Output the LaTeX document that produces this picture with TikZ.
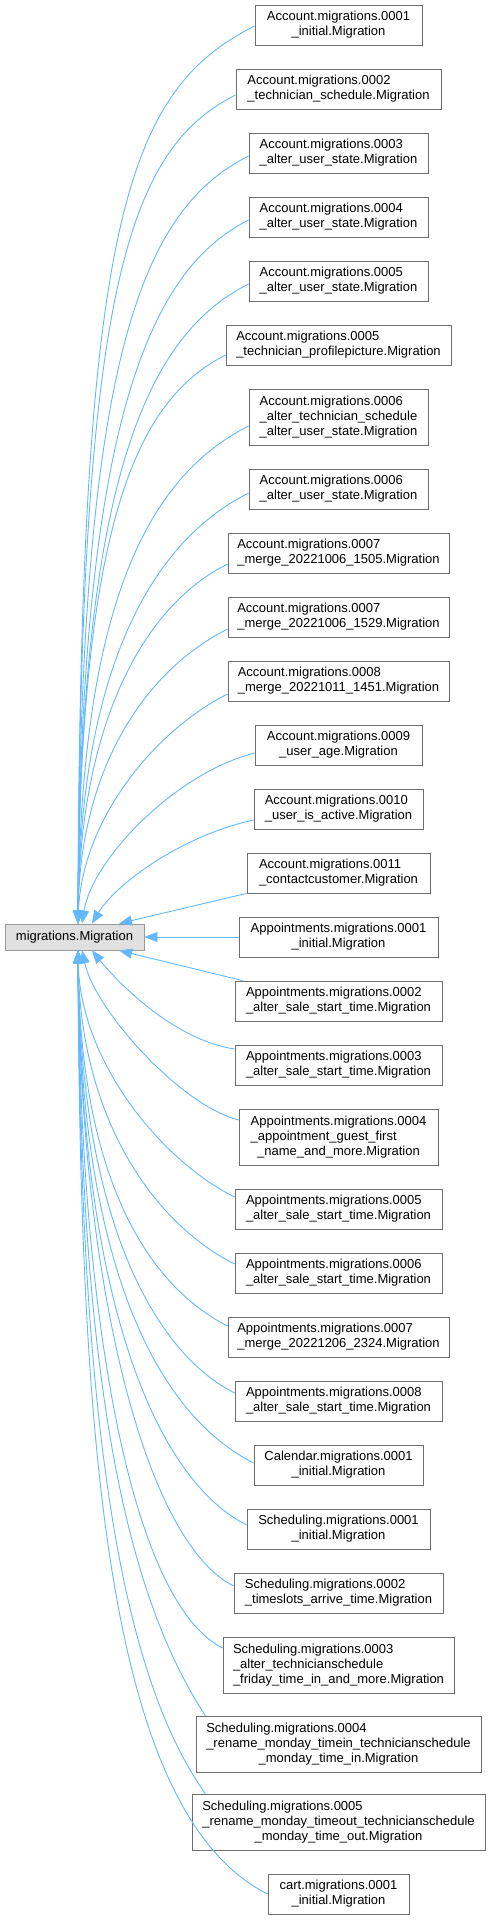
\documentclass[tikz,border=0pt]{standalone}
\usepackage{fontspec}
\setmainfont{Liberation Sans}
\usetikzlibrary{arrows.meta}
\definecolor{edgeblue}{HTML}{63B8FF}
\definecolor{boxdraw}{HTML}{6E6E6E}
\definecolor{basefill}{HTML}{E0E0E0}
\definecolor{basedraw}{HTML}{999999}
\newcommand{\mlab}[2]{\begin{tabular}{@{}l@{}}#1\\\multicolumn{1}{@{}c@{}}{#2}\end{tabular}}
\newcommand{\mlabiii}[3]{\begin{tabular}{@{}l@{}}#1\\#2\\\multicolumn{1}{@{}c@{}}{#3}\end{tabular}}
\tikzset{
  cls/.style={draw=boxdraw, fill=white, line width=0.8pt, inner sep=0pt,
    minimum height=40pt, font=\fontsize{13}{15}\selectfont},
  tall/.style={minimum height=56pt},
  basebox/.style={draw=basedraw, fill=basefill, line width=0.9pt, inner sep=0pt,
    minimum width=139pt, minimum height=26pt, font=\fontsize{13}{15}\selectfont},
  inh/.style={draw=edgeblue, line width=0.9pt, -{Triangle[length=13pt,width=10pt]}},
}
\begin{document}
\begin{tikzpicture}[x=1pt,y=-1pt]
\useasboundingbox (0,0) rectangle (491,1920);
\node[basebox] (base) at (74.5,937) {migrations.Migration};
\node[cls, minimum width=167pt] (c1) at (338.5,25) {\mlab{Account.migrations.0001}{\_initial.Migration}};
\node[cls, minimum width=205pt] (c2) at (338.5,89) {\mlab{Account.migrations.0002}{\_technician\_schedule.Migration}};
\node[cls, minimum width=179pt] (c3) at (338.5,153) {\mlab{Account.migrations.0003}{\_alter\_user\_state.Migration}};
\node[cls, minimum width=179pt] (c4) at (338.5,217) {\mlab{Account.migrations.0004}{\_alter\_user\_state.Migration}};
\node[cls, minimum width=179pt] (c5) at (338.5,281) {\mlab{Account.migrations.0005}{\_alter\_user\_state.Migration}};
\node[cls, minimum width=225pt] (c6) at (338.5,345) {\mlab{Account.migrations.0005}{\_technician\_profilepicture.Migration}};
\node[cls, tall, minimum width=179pt] (c7) at (338.5,417) {\mlabiii{Account.migrations.0006}{\_alter\_technician\_schedule}{\_alter\_user\_state.Migration}};
\node[cls, minimum width=179pt] (c8) at (338.5,489) {\mlab{Account.migrations.0006}{\_alter\_user\_state.Migration}};
\node[cls, minimum width=221pt] (c9) at (338.5,553) {\mlab{Account.migrations.0007}{\_merge\_20221006\_1505.Migration}};
\node[cls, minimum width=221pt] (c10) at (338.5,617) {\mlab{Account.migrations.0007}{\_merge\_20221006\_1529.Migration}};
\node[cls, minimum width=221pt] (c11) at (338.5,681) {\mlab{Account.migrations.0008}{\_merge\_20221011\_1451.Migration}};
\node[cls, minimum width=167pt] (c12) at (338.5,745) {\mlab{Account.migrations.0009}{\_user\_age.Migration}};
\node[cls, minimum width=169pt] (c13) at (338.5,809) {\mlab{Account.migrations.0010}{\_user\_is\_active.Migration}};
\node[cls, minimum width=183pt] (c14) at (338.5,873) {\mlab{Account.migrations.0011}{\_contactcustomer.Migration}};
\node[cls, minimum width=199pt] (c15) at (338.5,937) {\mlab{Appointments.migrations.0001}{\_initial.Migration}};
\node[cls, minimum width=207pt] (c16) at (338.5,1001) {\mlab{Appointments.migrations.0002}{\_alter\_sale\_start\_time.Migration}};
\node[cls, minimum width=207pt] (c17) at (338.5,1065) {\mlab{Appointments.migrations.0003}{\_alter\_sale\_start\_time.Migration}};
\node[cls, tall, minimum width=199pt] (c18) at (338.5,1137.5) {\mlabiii{Appointments.migrations.0004}{\_appointment\_guest\_first}{\_name\_and\_more.Migration}};
\node[cls, minimum width=207pt] (c19) at (338.5,1209) {\mlab{Appointments.migrations.0005}{\_alter\_sale\_start\_time.Migration}};
\node[cls, minimum width=207pt] (c20) at (338.5,1273) {\mlab{Appointments.migrations.0006}{\_alter\_sale\_start\_time.Migration}};
\node[cls, minimum width=221pt] (c21) at (338.5,1337) {\mlab{Appointments.migrations.0007}{\_merge\_20221206\_2324.Migration}};
\node[cls, minimum width=207pt] (c22) at (338.5,1401) {\mlab{Appointments.migrations.0008}{\_alter\_sale\_start\_time.Migration}};
\node[cls, minimum width=169pt] (c23) at (338.5,1465) {\mlab{Calendar.migrations.0001}{\_initial.Migration}};
\node[cls, minimum width=183pt] (c24) at (338.5,1529) {\mlab{Scheduling.migrations.0001}{\_initial.Migration}};
\node[cls, minimum width=209pt] (c25) at (338.5,1593) {\mlab{Scheduling.migrations.0002}{\_timeslots\_arrive\_time.Migration}};
\node[cls, tall, minimum width=231pt] (c26) at (338.5,1665) {\mlabiii{Scheduling.migrations.0003}{\_alter\_technicianschedule}{\_friday\_time\_in\_and\_more.Migration}};
\node[cls, tall, minimum width=285pt] (c27) at (338.5,1744.5) {\mlabiii{Scheduling.migrations.0004}{\_rename\_monday\_timein\_technicianschedule}{\_monday\_time\_in.Migration}};
\node[cls, tall, minimum width=293pt] (c28) at (338.5,1822.5) {\mlabiii{Scheduling.migrations.0005}{\_rename\_monday\_timeout\_technicianschedule}{\_monday\_time\_out.Migration}};
\node[cls, minimum width=141pt] (c29) at (338.5,1894) {\mlab{cart.migrations.0001}{\_initial.Migration}};
% upper edges
\draw[inh] ([yshift=-1pt]c1.west) .. controls (125,91) and (80,224) .. ([xshift=3.5pt]base.north);
\draw[inh] ([yshift=-6pt]c2.west) .. controls (126,150) and (80,294) .. ([xshift=3.5pt]base.north);
\draw[inh] ([yshift=-3pt]c3.west) .. controls (139,211) and (80,364) .. ([xshift=3.5pt]base.north);
\draw[inh] ([yshift=-3pt]c4.west) .. controls (149,270) and (80,424) .. ([xshift=3.5pt]base.north);
\draw[inh] ([yshift=-3pt]c5.west) .. controls (149,334) and (80,474) .. ([xshift=3.5pt]base.north);
\draw[inh] ([yshift=-10pt]c6.west) .. controls (136,400) and (80,524) .. ([xshift=3.5pt]base.north);
\draw[inh] ([yshift=-9pt]c7.west) .. controls (139,481) and (81,624) .. ([xshift=3.5pt]base.north);
\draw[inh] ([yshift=-4pt]c8.west) .. controls (149,543) and (80,674) .. ([xshift=3.5pt]base.north);
\draw[inh] ([yshift=-11pt]c9.west) .. controls (143,606) and (80,724) .. ([xshift=3.5pt]base.north);
\draw[inh] ([yshift=-12pt]c10.west) .. controls (148,669) and (80,764) .. ([xshift=3.5pt]base.north);
\draw[inh] ([yshift=-13pt]c11.west) .. controls (154,731) and (82,820) .. ([xshift=3.5pt]base.north);
\draw[inh] ([yshift=-8pt]c12.west) .. controls (175,773) and (92,860) .. ([xshift=7.5pt]base.north);
\draw[inh] ([yshift=-11pt]c13.west) .. controls (180,836) and (115,885) .. ([xshift=17.5pt]base.north);
\draw[inh] (c14.south west) -- ([xshift=44.5pt]base.north);
\draw[inh] (c15.west) -- (base.east);
\draw[inh] ([xshift=8pt]c16.north west) -- ([xshift=44.5pt]base.south);
% lower edges
\draw[inh] ([yshift=16pt]c17.west) .. controls (175,1040) and (120,985) .. ([xshift=17.5pt]base.south);
\draw[inh] ([yshift=17.5pt]c18.west) .. controls (180,1105) and (95,1010) .. ([xshift=7.5pt]base.south);
\draw[inh] ([yshift=12pt]c19.west) .. controls (160,1160) and (80,1060) .. ([xshift=3.5pt]base.south);
\draw[inh] ([yshift=9pt]c20.west) .. controls (155,1224) and (80,1120) .. ([xshift=3.5pt]base.south);
\draw[inh] ([yshift=11pt]c21.west) .. controls (143,1283) and (80,1170) .. ([xshift=3.5pt]base.south);
\draw[inh] ([yshift=8pt]c22.west) .. controls (155,1353) and (80,1220) .. ([xshift=3.5pt]base.south);
\draw[inh] ([yshift=2pt]c23.west) .. controls (159,1415) and (80,1270) .. ([xshift=3.5pt]base.south);
\draw[inh] ([yshift=4pt]c24.west) .. controls (152,1477) and (80,1290) .. ([xshift=3.5pt]base.south);
\draw[inh] ([yshift=7pt]c25.west) .. controls (144,1541) and (80,1280) .. ([xshift=3.5pt]base.south);
\draw[inh] ([yshift=17pt]c26.west) .. controls (133,1603) and (80,1330) .. ([xshift=3.5pt]base.south);
\draw[inh] ([xshift=10pt]c27.north west) .. controls (130,1600) and (80,1400) .. ([xshift=3.5pt]base.south);
\draw[inh] ([xshift=14pt]c28.north west) .. controls (125,1680) and (80,1450) .. ([xshift=3.5pt]base.south);
\draw[inh] (c29.west) .. controls (108,1814) and (80,1450) .. ([xshift=3.5pt]base.south);
\end{tikzpicture}
\end{document}
